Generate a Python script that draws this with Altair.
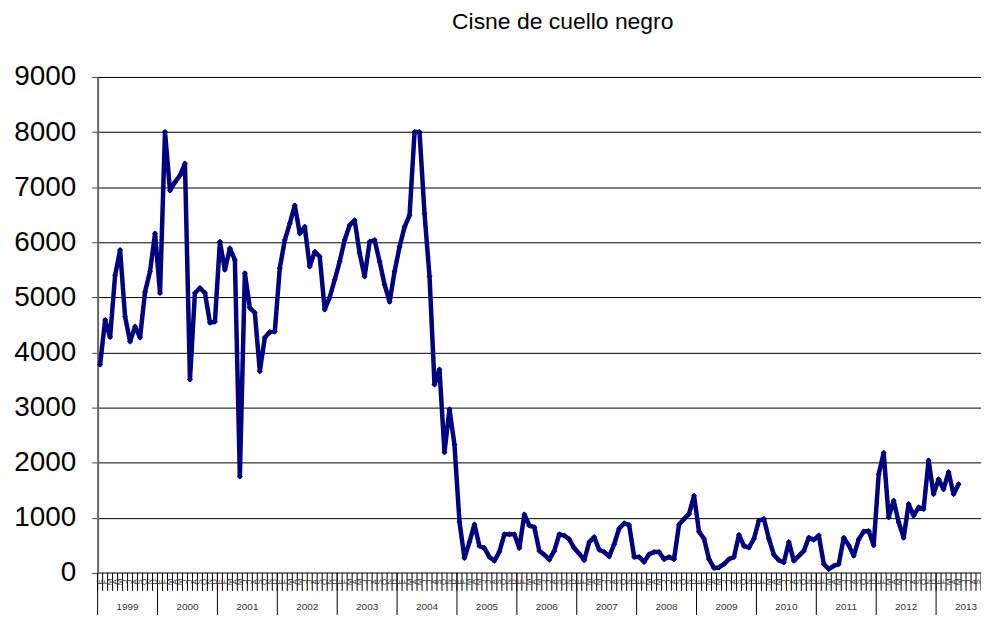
import altair as alt
import pandas as pd

# ---- data (monthly counts) ----
years = [str(y) for y in range(1999, 2014)]
month_letters = ["E", "F", "M", "A", "M", "J", "J", "A", "S", "O", "N", "D"]

v1999 = [3780, 4590, 4280, 5400, 5860, 4650, 4200, 4470, 4270, 5100, 5470, 6160]
v2000 = [5080, 8000, 6940, 7090, 7210, 7430, 3510, 5080, 5170, 5080, 4540, 4560]
v2001 = [6010, 5500, 5890, 5680, 1750, 5440, 4810, 4720, 3660, 4270, 4370, 4380]
v2002 = [5530, 6040, 6340, 6670, 6160, 6280, 5560, 5830, 5740, 4780, 5000, 5320]
v2003 = [5650, 6040, 6310, 6400, 5800, 5380, 6010, 6040, 5650, 5230, 4920, 5470]
v2004 = [5920, 6280, 6490, 8000, 8000, 6520, 5380, 3420, 3690, 2190, 2970, 2330]
v2005 = [930, 270, 560, 880, 490, 450, 290, 220, 385, 700, 700, 700]
v2006 = [450, 1060, 860, 830, 400, 330, 240, 400, 700, 680, 610, 450]
v2007 = [350, 230, 560, 650, 420, 380, 300, 520, 810, 900, 870, 290]
v2008 = [290, 200, 340, 380, 380, 250, 290, 250, 880, 980, 1070, 1400]
v2009 = [750, 620, 250, 90, 100, 160, 250, 290, 690, 490, 460, 620]
v2010 = [950, 980, 620, 330, 230, 190, 560, 220, 310, 400, 640, 600]
v2011 = [680, 160, 70, 130, 160, 640, 500, 310, 610, 750, 760, 500]
v2012 = [1790, 2180, 1010, 1310, 920, 640, 1250, 1040, 1190, 1160, 2040, 1430]
v2013 = [1700, 1520, 1830, 1430, 1610]

y_ticks = [0, 1000, 2000, 3000, 4000, 5000, 6000, 7000, 8000, 9000]
title_text = "Cisne de cuello negro"
n_categories = 177  # Jan 1999 .. Sep 2013 shown on the axis

values = (v1999 + v2000 + v2001 + v2002 + v2003 + v2004 + v2005 + v2006 +
          v2007 + v2008 + v2009 + v2010 + v2011 + v2012 + v2013)

W, H = 887, 498
NAVY = "#000080"
FONT = "Liberation Sans"

df = pd.DataFrame({"t": [i + 0.5 for i in range(len(values))], "v": values})
months_df = pd.DataFrame({
    "t": [i + 0.5 for i in range(n_categories)],
    "m": [month_letters[i % 12] for i in range(n_categories)],
})
ticks_df = pd.DataFrame({"t": list(range(n_categories + 1))})
year_bounds_df = pd.DataFrame({"t": [12 * k for k in range(len(years) + 1)]})
years_df = pd.DataFrame({"t": [12 * k + 6 for k in range(len(years))], "year": years})
title_df = pd.DataFrame({"label": [title_text]})

xscale = alt.Scale(domain=[0, n_categories], nice=False, zero=False)


def X(field="t"):
    return alt.X(f"{field}:Q", scale=xscale, axis=None)


yaxis = alt.Axis(values=y_ticks, grid=True, gridColor="#000", gridWidth=1,
                 labelFontSize=28, labelFont=FONT, labelColor="#000",
                 labelPadding=16, tickSize=6, tickColor="#444",
                 domainColor="#666", domainWidth=2, title=None, format="d")

line = alt.Chart(df).mark_line(
    color=NAVY, strokeWidth=4.5, strokeJoin="round", strokeCap="round",
    point=alt.OverlayMarkDef(shape="diamond", size=36, filled=True, color=NAVY),
).encode(
    x=X(),
    y=alt.Y("v:Q", scale=alt.Scale(domain=[0, 9000], nice=False), axis=yaxis),
)

xaxis_line = alt.Chart(title_df).mark_rule(color="#808080", strokeWidth=2).encode(
    x=alt.value(0), x2=alt.value(W), y=alt.value(H)
)

tick_rules = alt.Chart(ticks_df).mark_rule(color="#000", strokeWidth=1).encode(
    x=X(), y=alt.value(H), y2=alt.value(H + 18)
)

year_rules = alt.Chart(year_bounds_df).mark_rule(color="#000", strokeWidth=1).encode(
    x=X(), y=alt.value(H), y2=alt.value(H + 60)
)

month_text = alt.Chart(months_df).mark_text(
    angle=270, fontSize=8, font=FONT, color="#333", align="center", baseline="middle"
).encode(x=X(), y=alt.value(H + 9), text="m:N")

year_text = alt.Chart(years_df).mark_text(
    fontSize=10, font=FONT, color="#333", align="center", baseline="middle"
).encode(x=X(), y=alt.value(H + 34), text="year:N")

title = alt.Chart(title_df).mark_text(
    fontSize=23, font=FONT, color="#000", align="center", baseline="alphabetic"
).encode(x=alt.value(467), y=alt.value(-48), text="label:N")

chart = alt.layer(
    line, xaxis_line, tick_rules, year_rules, month_text, year_text, title
).properties(
    width=W, height=H,
    autosize=alt.AutoSizeParams(type="none"),
    padding={"left": 90, "top": 68, "right": 0, "bottom": 41},
).configure_view(stroke=None).configure(background="white")

chart.save("out.html", embed_options={"renderer": "svg", "actions": False})
